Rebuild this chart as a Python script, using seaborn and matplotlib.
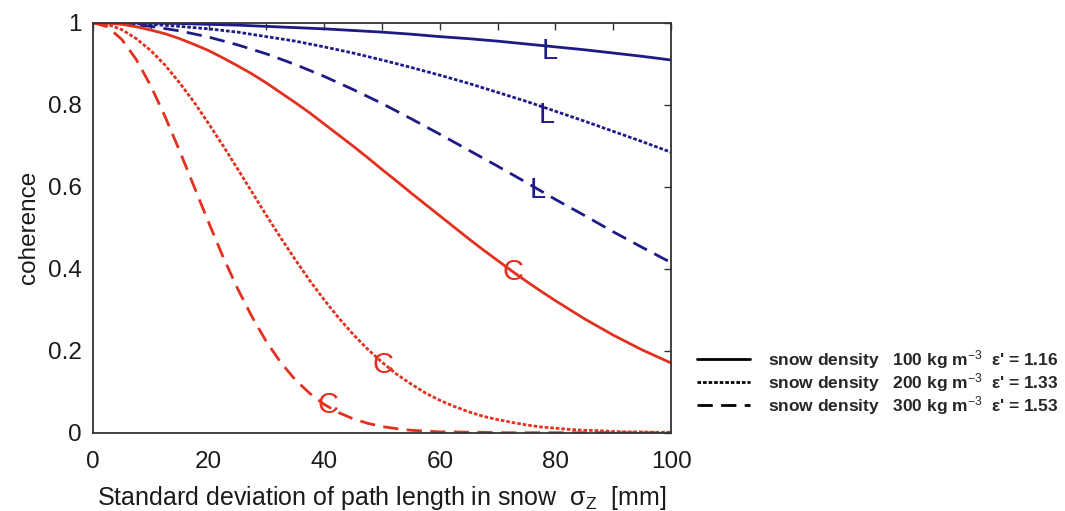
import numpy as np
import pandas as pd
import matplotlib
matplotlib.use("Agg")
import matplotlib.pyplot as plt
from matplotlib.lines import Line2D
import seaborn as sns

# ---- data ----
# L-band curves (blue), sampled every 5 mm
sigma_z_L = [0, 5, 10, 15, 20, 25, 30, 35, 40, 45, 50, 55, 60, 65, 70, 75, 80, 85, 90, 95, 100]
L_100 = [1.000, 1.000, 0.999, 0.998, 0.996, 0.994, 0.991, 0.988, 0.985, 0.981, 0.977,
         0.972, 0.966, 0.961, 0.955, 0.948, 0.941, 0.934, 0.926, 0.918, 0.909]
L_200 = [1.000, 0.999, 0.996, 0.991, 0.985, 0.977, 0.966, 0.955, 0.941, 0.926, 0.909,
         0.891, 0.872, 0.852, 0.830, 0.808, 0.784, 0.760, 0.735, 0.710, 0.684]
L_300 = [1.000, 0.998, 0.991, 0.980, 0.965, 0.946, 0.924, 0.898, 0.869, 0.837, 0.803,
         0.766, 0.728, 0.689, 0.650, 0.610, 0.569, 0.530, 0.490, 0.452, 0.415]

# C-band curves (red), sampled every 2.5 mm
sigma_z_C = [0, 2.5, 5, 7.5, 10, 12.5, 15, 17.5, 20, 22.5, 25, 27.5, 30, 32.5, 35, 37.5,
             40, 42.5, 45, 47.5, 50, 52.5, 55, 57.5, 60, 62.5, 65, 67.5, 70, 72.5, 75,
             77.5, 80, 82.5, 85, 87.5, 90, 92.5, 95, 97.5, 100]
C_100 = [1.000, 0.999, 0.996, 0.990, 0.982, 0.973, 0.961, 0.947, 0.932, 0.914, 0.895,
         0.875, 0.853, 0.829, 0.805, 0.780, 0.753, 0.726, 0.699, 0.671, 0.642, 0.614,
         0.585, 0.557, 0.529, 0.501, 0.473, 0.446, 0.420, 0.394, 0.369, 0.345, 0.322,
         0.300, 0.278, 0.258, 0.238, 0.220, 0.202, 0.186, 0.170]
C_200 = [1.000, 0.996, 0.983, 0.961, 0.932, 0.896, 0.853, 0.806, 0.754, 0.700, 0.644,
         0.587, 0.530, 0.475, 0.422, 0.371, 0.324, 0.280, 0.240, 0.204, 0.172, 0.143,
         0.119, 0.097, 0.079, 0.064, 0.051, 0.040, 0.032, 0.025, 0.019, 0.014, 0.011,
         0.008, 0.006, 0.005, 0.003, 0.002, 0.002, 0.001, 0.001]
C_300 = [1.000, 0.990, 0.959, 0.910, 0.846, 0.770, 0.687, 0.600, 0.513, 0.429, 0.352,
         0.283, 0.222, 0.171, 0.129, 0.096, 0.069, 0.049, 0.034, 0.023, 0.015, 0.010,
         0.006, 0.004, 0.002, 0.002, 0.001, 0.001, 0.000, 0.000, 0.000, 0.000, 0.000,
         0.000, 0.000, 0.000, 0.000, 0.000, 0.000, 0.000, 0.000]

x_ticks = [0, 20, 40, 60, 80, 100]
y_ticks = [0, 0.2, 0.4, 0.6, 0.8, 1.0]
y_tick_labels = ["0", "0.2", "0.4", "0.6", "0.8", "1"]

legend_labels = [
    "snow density   100 kg m$^{-3}$  \u03b5' = 1.16",
    "snow density   200 kg m$^{-3}$  \u03b5' = 1.33",
    "snow density   300 kg m$^{-3}$  \u03b5' = 1.53",
]

# band labels: (text, x, y)
band_labels = [
    ("L", 79.0, 0.931), ("L", 78.5, 0.775), ("L", 77.0, 0.592),
    ("C", 72.7, 0.393), ("C", 50.2, 0.165), ("C", 40.7, 0.068),
]

# ---- styling ----
BLUE = "#1e1a86"
RED = "#e2311f"
styles = {"solid": "-", "dotted": (0, (1.3, 0.7)), "dashed": (0, (5.5, 3))}

sns.set_theme(style="white")
plt.rcParams["font.family"] = ["Liberation Sans", "DejaVu Sans"]
plt.rcParams["mathtext.fontset"] = "custom"
plt.rcParams["mathtext.rm"] = "Liberation Sans"
plt.rcParams["mathtext.it"] = "Liberation Sans:italic"
plt.rcParams["mathtext.bf"] = "Liberation Sans:bold"

fig = plt.figure(figsize=(10.65, 5.11), dpi=100)
ax = fig.add_axes([0.0873, 0.1532, 0.5428, 0.8024])

series = [
    (sigma_z_L, L_100, BLUE, "solid"), (sigma_z_L, L_200, BLUE, "dotted"),
    (sigma_z_L, L_300, BLUE, "dashed"),
    (sigma_z_C, C_100, RED, "solid"), (sigma_z_C, C_200, RED, "dotted"),
    (sigma_z_C, C_300, RED, "dashed"),
]
for xs, vals, col, st in series:
    df = pd.DataFrame({"x": xs, "y": vals})
    sns.lineplot(data=df, x="x", y="y", ax=ax, color=col, linewidth=2.0,
                 linestyle=styles[st], legend=False)

for txt, bx, by in band_labels:
    col = BLUE if txt == "L" else RED
    ax.text(bx, by, txt, color=col, fontsize=21, ha="center", va="center")

ax.set_xlim(0, 100)
ax.set_ylim(0, 1)
ax.set_xticks(x_ticks)
ax.set_xticks(list(range(0, 101, 10)), minor=True)
ax.set_yticks(y_ticks)
ax.set_yticklabels(y_tick_labels)
ax.tick_params(axis="both", which="both", direction="in", top=True, right=True,
               length=5, width=1.0, color="#333333", labelsize=17.5, pad=8,
               labelcolor="#1a1a1a")
ax.tick_params(axis="x", which="major", pad=13)
for s in ax.spines.values():
    s.set_color("#333333")
    s.set_linewidth(1.3)

ax.set_xlabel("Standard deviation of path length in snow  $\\mathrm{\u03c3}_{\\mathrm{Z}}$  [mm]",
              fontsize=18, labelpad=8, color="#1a1a1a")
ax.set_ylabel("coherence", fontsize=17.5, labelpad=6, color="#1a1a1a")

handles = [Line2D([], [], color="black", linewidth=2.0, linestyle=styles[k])
           for k in ["solid", "dotted", "dashed"]]
fig.legend(handles, legend_labels, loc="center left", bbox_to_anchor=(0.654, 0.252),
           frameon=False, prop={"weight": "bold", "size": 12.5}, handlelength=3.1,
           handletextpad=1.0, labelspacing=0.0, borderaxespad=0, borderpad=0)

fig.savefig("out.png", dpi=100)
